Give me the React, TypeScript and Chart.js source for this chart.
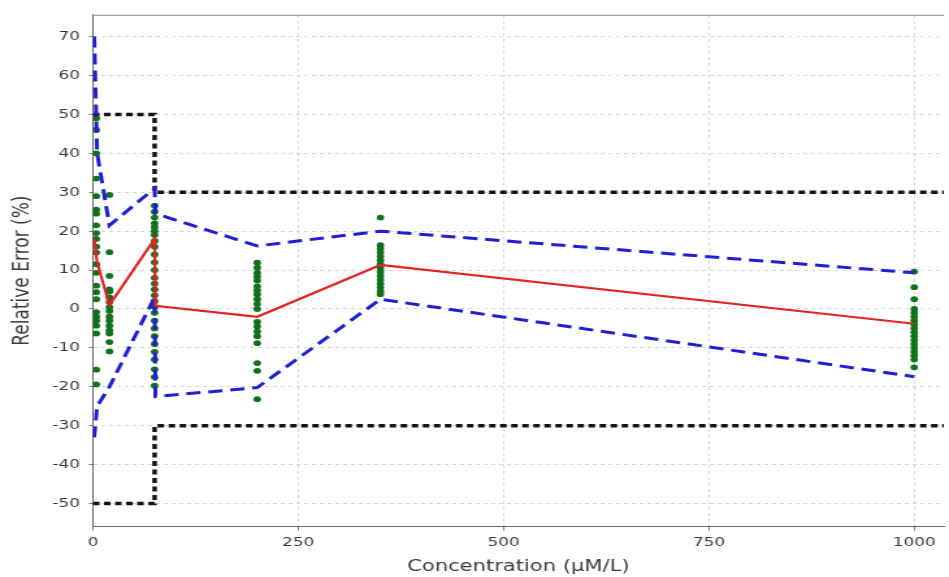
import React, { useEffect, useRef } from "react";
import { Chart, registerables } from "chart.js";

Chart.register(...registerables);

// Concentration levels used for the summary curves (µM/L)
const levels = [1.5, 5, 20, 75, 76, 200, 350, 1000];
const meanError = [18, 12, 1, 18, 0.8, -2, 11.3, -3.8];
const upperBound = [70, 40, 21.5, 31, 24.5, 16.2, 20, 9.3];
const lowerBound = [-33, -25, -20, 3, -22.5, -20.2, 2.5, -17.4];

// Acceptance limits (step at 75 µM/L)
const limitX = [0, 75, 75, 1036];
const upperLimit = [50, 50, 30, 30];
const lowerLimit = [-50, -50, -30, -30];

// Individual relative errors per concentration
const sampleConc = [4, 20, 75, 200, 350, 1000];
const samples4 = [49, 46, 40, 33.5, 29, 25.5, 24.5, 21.5, 19.5, 18, 16, 14.5, 11.5, 9.3, 6, 4.3, 2.5, -0.8, -2, -3, -4.3, -6.3, -15.6, -19.4];
const samples20 = [29.3, 14.6, 8.5, 5, 4.5, 3, 1.8, 0.5, -0.5, -2, -3, -4.3, -5.5, -6.3, -8.5, -10.9];
const samples75 = [26.5, 25, 23.5, 22, 21, 20, 19, 17.5, 16, 14, 12, 10, 8, 6.5, 5, 3.5, 2, 0.5, -1, -3, -5, -7, -9, -11, -13, -15.5, -17.5, -19.7];
const samples200 = [11.9, 10.6, 9.3, 8.3, 7.3, 5.8, 4.8, 3.8, 2.5, 1.3, 0, -3.3, -4.5, -5.8, -7, -8.8, -13.9, -15.9, -23.2];
const samples350 = [23.5, 16.4, 15.5, 14.5, 13.5, 12.5, 11.5, 10.5, 9.5, 8.5, 7.5, 6.5, 5.5, 4.5, 3.8];
const samples1000 = [9.6, 5.6, 2.5, 0, -1, -2, -3, -4, -5, -6, -7, -8, -9, -10, -11, -12, -13, -15];
const sampleGroups = [samples4, samples20, samples75, samples200, samples350, samples1000];

const xTickValues = [0, 250, 500, 750, 1000];
const yTickValues = [-50, -40, -30, -20, -10, 0, 10, 20, 30, 40, 50, 60, 70];

const X_MIN = 0;
const X_MAX = 1036;
const Y_MIN = -55.9;
const Y_MAX = 75.6;

// The drawing surface is rendered narrower and widened on screen
const STRETCH = 1.3;
const SCREEN_W = 949;
const SCREEN_H = 577;
const RENDER_W = Math.round(SCREEN_W / STRETCH);

const FONT = "'DejaVu Sans', sans-serif";

const pairs = (xs: number[], ys: number[]) => xs.map((x, i) => ({ x, y: ys[i] }));

const plotOutline = {
  id: "plotOutline",
  beforeDatasetsDraw(chart: any) {
    const { ctx, chartArea } = chart;
    ctx.save();
    ctx.strokeStyle = "#8a8a8a";
    ctx.lineWidth = 1;
    ctx.beginPath();
    ctx.moveTo(chartArea.left, chartArea.top + 0.5);
    ctx.lineTo(chartArea.right, chartArea.top + 0.5);
    ctx.stroke();
    ctx.restore();
  },
};

export default function App() {
  const canvasRef = useRef<HTMLCanvasElement | null>(null);

  useEffect(() => {
    const canvas = canvasRef.current;
    if (!canvas) return;

    const samplePoints: { x: number; y: number }[] = [];
    sampleGroups.forEach((group, gi) => {
      group.forEach((v) => samplePoints.push({ x: sampleConc[gi], y: v }));
    });

    const blue = "#1f1fcf";
    const limitStyle = {
      showLine: true,
      borderColor: "#141414",
      borderWidth: 3.5,
      borderDash: [5, 3.5],
      pointRadius: 0,
      fill: false,
      order: 2,
    };
    const boundStyle = {
      showLine: true,
      borderColor: blue,
      borderWidth: 3,
      borderDash: [11, 6],
      pointRadius: 0,
      fill: false,
      order: 1,
    };

    const gridStyle = {
      color: "#d6d6d6",
      lineWidth: 1,
      drawTicks: true,
      tickColor: "#777777",
      tickBorderDash: [],
    };

    const chart = new Chart(canvas, {
      type: "scatter",
      data: {
        datasets: [
          {
            label: "Mean",
            data: pairs(levels, meanError),
            showLine: true,
            borderColor: "#e02424",
            borderWidth: 2.2,
            pointRadius: 0,
            fill: false,
            order: 0,
          },
          { label: "Upper", data: pairs(levels, upperBound), ...boundStyle },
          { label: "Lower", data: pairs(levels, lowerBound), ...boundStyle },
          { label: "Upper limit", data: pairs(limitX, upperLimit), ...limitStyle },
          { label: "Lower limit", data: pairs(limitX, lowerLimit), ...limitStyle },
          {
            label: "Samples",
            data: samplePoints,
            showLine: false,
            pointRadius: 2.9,
            pointBorderWidth: 0,
            pointBackgroundColor: "#11701a",
            backgroundColor: "#11701a",
            order: 3,
          },
        ],
      },
      options: {
        responsive: false,
        animation: false,
        events: [],
        layout: { padding: { left: 0, top: 6, right: 2.3, bottom: 0 } },
        plugins: {
          legend: { display: false },
          tooltip: { enabled: false },
        },
        scales: {
          x: {
            type: "linear",
            min: X_MIN,
            max: X_MAX,
            afterFit: (scale: any) => {
              scale.height = 50.5;
            },
            afterBuildTicks: (scale: any) => {
              scale.ticks = xTickValues.map((value) => ({ value }));
            },
            border: { display: true, color: "#666666", width: 1, dash: [3, 3] },
            grid: { ...gridStyle, tickLength: 4 },
            ticks: {
              font: { family: FONT, size: 13 },
              color: "#3a3a3a",
              padding: 4,
              maxRotation: 0,
              autoSkip: false,
              callback: (value: any) => String(value),
            },
            title: {
              display: true,
              text: "Concentration (\u03bcM/L)",
              font: { family: FONT, size: 16.2 },
              color: "#3a3a3a",
              padding: { top: 0, bottom: 0 },
            },
          },
          y: {
            type: "linear",
            min: Y_MIN,
            max: Y_MAX,
            afterFit: (scale: any) => {
              scale.width = 93 / STRETCH;
            },
            afterBuildTicks: (scale: any) => {
              scale.ticks = yTickValues.map((value) => ({ value }));
            },
            border: { display: true, color: "#666666", width: 1, dash: [3, 3] },
            grid: { ...gridStyle, tickLength: 3 },
            ticks: {
              font: { family: FONT, size: 13 },
              color: "#3a3a3a",
              padding: 7,
              autoSkip: false,
              callback: (value: any) => String(value),
            },
            title: {
              display: true,
              text: "Relative Error (%)",
              font: { family: FONT, size: 17 },
              color: "#3a3a3a",
              padding: { top: 7.5, bottom: 0 },
            },
          },
        },
      },
      plugins: [plotOutline],
    });

    return () => {
      chart.destroy();
    };
  }, []);

  return (
    <div
      style={{
        position: "fixed",
        left: 0,
        top: 0,
        width: SCREEN_W,
        height: SCREEN_H,
        background: "#ffffff",
      }}
    >
      <canvas
        ref={canvasRef}
        width={RENDER_W}
        height={SCREEN_H}
        style={{ width: `${SCREEN_W}px`, height: `${SCREEN_H}px`, display: "block" }}
      />
    </div>
  );
}
